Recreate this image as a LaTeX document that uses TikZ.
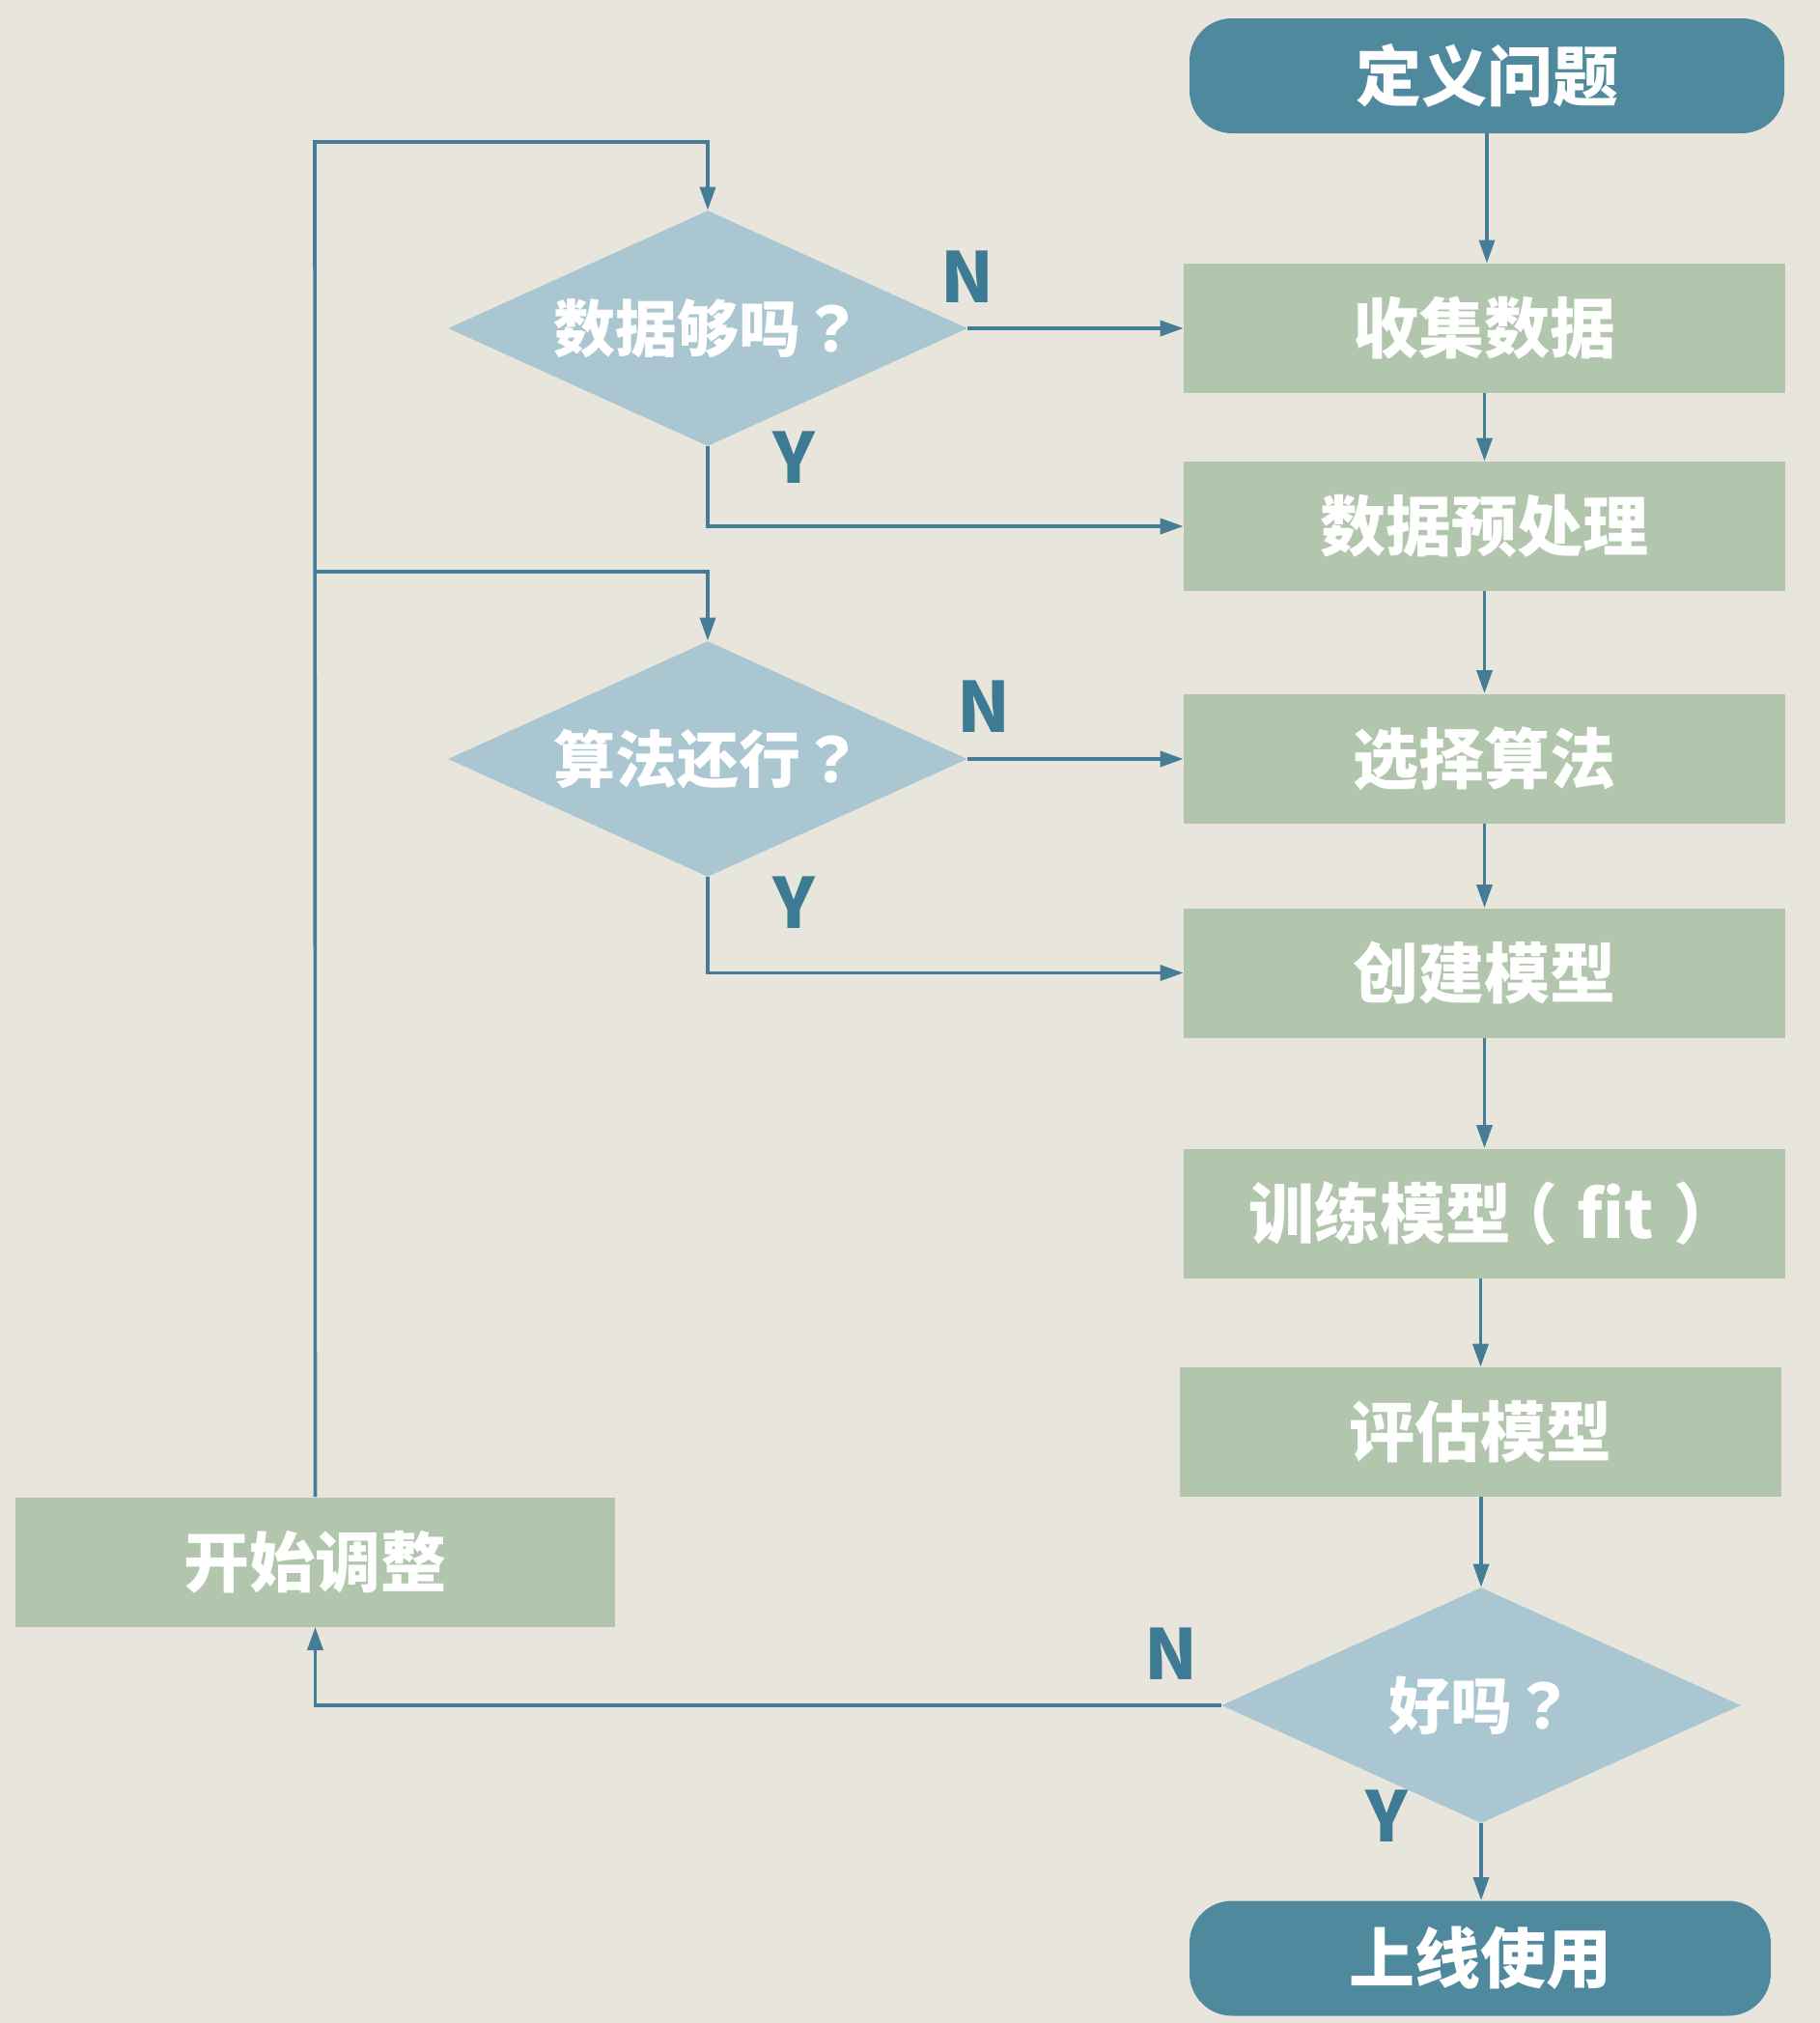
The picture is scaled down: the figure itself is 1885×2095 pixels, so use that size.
\documentclass[tikz,border=0pt]{standalone}
\usepackage{fontspec}
\setmainfont{Noto Sans CJK SC}
% centred full-width punctuation
\newfontfamily\punct{Noto Sans CJK TC}
\usetikzlibrary{shapes.geometric,arrows.meta}

\definecolor{bgcol}{HTML}{E8E6DC}
\definecolor{termfill}{HTML}{4F899D}
\definecolor{boxfill}{HTML}{B2C6AD}
\definecolor{decfill}{HTML}{AAC7D1}
\definecolor{linecol}{HTML}{467D96}
\definecolor{labcol}{HTML}{3D7B94}

\newcommand{\qm}{{\punct ？}}
\newcommand{\lp}{\kern-0.3em{（}\kern0.3em}
\newcommand{\rp}{\kern0.3em{）}\kern-0.3em}

\tikzset{
  base/.style={text=white, font=\bfseries\fontsize{34pt}{36pt}\selectfont, inner sep=0pt},
  terminal/.style={base, fill=termfill, rounded corners=22pt, minimum width=#1, minimum height=59.5pt},
  stepbox/.style={base, fill=boxfill, minimum width=#1, minimum height=67pt},
  decision/.style={base, diamond, fill=decfill, aspect=2.2, minimum width=269pt, minimum height=122pt,
    font=\bfseries\fontsize{32pt}{34pt}\selectfont},
  flow/.style={draw=linecol, line width=1.8pt, -{Triangle[length=12pt,width=8pt]}},
  yn/.style={text=labcol, font=\bfseries\fontsize{36pt}{38pt}\selectfont, inner sep=0pt}
}

\begin{document}
\begin{tikzpicture}[x=0.5pt, y=-0.5pt]
  % canvas
  \fill[bgcol] (0,0) rectangle (1885,2095);
  \useasboundingbox (0,0) rectangle (1885,2095);

  % main column
  \node[terminal=308pt] (define) at (1540,78.5) {定义问题};
  \node[stepbox=311.5pt] (collect) at (1537.5,340) {收集数据};
  \node[stepbox=311.5pt] (prep) at (1537.5,545) {数据预处理};
  \node[stepbox=311.5pt] (select) at (1537.5,785.5) {选择算法};
  \node[stepbox=311.5pt] (build) at (1537.5,1007.5) {创建模型};
  \node[stepbox=311.5pt] (train) at (1537.5,1256.5) {训练模型\lp fit\rp};
  \node[stepbox=311.5pt] (eval) at (1533.5,1483) {评估模型};
  \node[decision] (good) at (1534,1766) {好吗\qm};
  \node[terminal=301pt] (deploy) at (1533,2028) {上线使用};

  % decisions on the left
  \node[decision] (enough) at (733,340) {数据够吗\qm};
  \node[decision] (algo) at (733,786) {算法还行\qm};
  \node[stepbox=310.5pt] (adjust) at (326.5,1617.5) {开始调整};

  % loop-back points
  \coordinate (top) at (326,147);
  \coordinate (join) at (326,592);

  % main flow
  \draw[flow] (define.south) -- (define.south |- collect.north);
  \draw[flow] (collect) -- (prep);
  \draw[flow] (prep) -- (select);
  \draw[flow] (select) -- (build);
  \draw[flow] (build) -- (train);
  \draw[flow] (eval.north |- train.south) -- (eval.north);
  \draw[flow] (eval.south -| good.north) -- (good.north);
  \draw[flow] (good.south) -- (good.south |- deploy.north);

  % decision branches
  \draw[flow] (enough.east) -- (enough.east -| collect.west);
  \draw[flow] (enough.south) |- (prep.west);
  \draw[flow] (algo.east) -- (algo.east -| select.west);
  \draw[flow] (algo.south) |- (build.west);
  \draw[flow] (good.west) -| (adjust.south);

  % feedback loop
  \draw[flow] (adjust.north) -- (top) -| (enough.north);
  \draw[flow] (join) -| (algo.north);

  % branch labels
  \node[yn] (n1) at (1002,287) {N};
  \node[yn] (y1) at (822,474) {Y};
  \node[yn] (n2) at (1019,732) {N};
  \node[yn] (y2) at (822,935) {Y};
  \node[yn] (n3) at (1213,1713) {N};
  \node[yn] (y3) at (1436,1881) {Y};
\end{tikzpicture}
\end{document}
